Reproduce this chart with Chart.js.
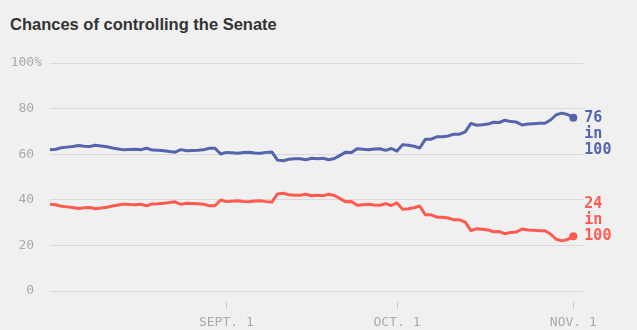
<!DOCTYPE html>
<html>
<head>
<meta charset="utf-8">
<script src="https://cdn.jsdelivr.net/npm/chart.js@4.4.0/dist/chart.umd.min.js"></script>
<style>
  html, body { margin: 0; padding: 0; background: #f0f0f0; }
  #wrap { position: relative; width: 637px; height: 330px; }
  #title {
    position: absolute; left: 10px; top: 15px;
    font: bold 16.5px "Liberation Sans", Arial, sans-serif;
    color: #333;
  }
  canvas { position: absolute; left: 0; top: 0; }
</style>
</head>
<body>
<div id="wrap">
  <div id="title">Chances of controlling the Senate</div>
  <canvas id="chart" width="637" height="330"></canvas>
</div>
<script>
// daily values, Aug 1 (index 0) through Nov 1
var dem = [
  61.9, 62.2, 62.8, 63.1, 63.4, 63.8, 63.5, 63.4, 63.9, 63.6,
  63.3, 62.7, 62.3, 61.9, 62.1, 62.2, 62.0, 62.6, 61.8, 61.7,
  61.5, 61.2, 60.9, 62.0, 61.5, 61.6, 61.7, 61.9, 62.6, 62.6,
  60.1, 60.8, 60.6, 60.4, 60.7, 60.9, 60.5, 60.4, 60.8, 61.0,
  57.4, 57.1, 57.8, 58.0, 58.0, 57.6, 58.2, 58.0, 58.2, 57.6,
  58.1, 59.5, 60.9, 60.7, 62.4, 62.2, 62.0, 62.3, 62.4, 61.7,
  62.5, 61.4, 64.2, 63.9, 63.5, 62.7, 66.6, 66.6, 67.6, 67.7,
  68.0, 68.8, 68.8, 69.8, 73.5, 72.7, 72.9, 73.2, 74.0, 73.9,
  74.9, 74.3, 74.1, 72.8, 73.2, 73.4, 73.6, 73.6, 75.0, 77.3,
  78.0, 77.4, 76.0
];
var rep = [
  38.1, 37.8, 37.2, 36.9, 36.6, 36.2, 36.5, 36.6, 36.1, 36.4,
  36.7, 37.3, 37.7, 38.1, 37.9, 37.8, 38.0, 37.4, 38.2, 38.3,
  38.5, 38.8, 39.1, 38.0, 38.5, 38.4, 38.3, 38.1, 37.4, 37.4,
  39.9, 39.2, 39.4, 39.6, 39.3, 39.1, 39.5, 39.6, 39.2, 39.0,
  42.6, 42.9, 42.2, 42.0, 42.0, 42.4, 41.8, 42.0, 41.8, 42.4,
  41.9, 40.5, 39.1, 39.3, 37.6, 37.8, 38.0, 37.7, 37.6, 38.3,
  37.5, 38.6, 35.8, 36.1, 36.5, 37.3, 33.4, 33.4, 32.4, 32.3,
  32.0, 31.2, 31.2, 30.2, 26.5, 27.3, 27.1, 26.8, 26.0, 26.1,
  25.1, 25.7, 25.9, 27.2, 26.8, 26.6, 26.4, 26.4, 25.0, 22.7,
  22.0, 22.6, 24.0
];
var xTickDays = [31, 61, 92];
var xTickLabels = ["SEPT. 1", "OCT. 1", "NOV. 1"];
var endLabels = [["76", "in", "100"], ["24", "in", "100"]];

var blue = "#5465ad";
var red = "#ff5a50";
var mono = "'DejaVu Sans Mono', 'Liberation Mono', monospace";

function pts(arr) {
  return arr.map(function (v, i) { return { x: i, y: v }; });
}
function lastDot(arr) {
  return function (ctx) { return ctx.dataIndex === arr.length - 1 ? 4 : 0; };
}

var endPlugin = {
  id: "endLabels",
  afterDraw: function (chart) {
    var c = chart.ctx;
    var xs = chart.scales.x;
    var ys = chart.scales.y;
    // small tick marks below the axis
    c.save();
    c.strokeStyle = "#cccccc";
    c.lineWidth = 1;
    xTickDays.forEach(function (d) {
      var px = Math.round(xs.getPixelForValue(d)) + 0.5;
      c.beginPath();
      c.moveTo(px, ys.bottom + 11);
      c.lineTo(px, ys.bottom + 18);
      c.stroke();
    });
    // end labels
    c.font = "bold 15px " + mono;
    c.textBaseline = "middle";
    c.textAlign = "left";
    chart.data.datasets.forEach(function (ds, k) {
      var last = ds.data[ds.data.length - 1];
      var px = xs.getPixelForValue(last.x) + 11;
      var py = ys.getPixelForValue(last.y);
      var lines = endLabels[k];
      c.fillStyle = ds.borderColor;
      lines.forEach(function (t, j) {
        var off = k === 0 ? j * 16 : (j - lines.length + 1) * 16;
        c.fillText(t, px, py + off);
      });
    });
    c.restore();
  }
};

new Chart(document.getElementById("chart"), {
  type: "line",
  data: {
    datasets: [
      {
        data: pts(dem), borderColor: blue, backgroundColor: blue,
        borderWidth: 3, tension: 0, pointRadius: lastDot(dem),
        pointBorderWidth: 0, borderJoinStyle: "round"
      },
      {
        data: pts(rep), borderColor: red, backgroundColor: red,
        borderWidth: 3, tension: 0, pointRadius: lastDot(rep),
        pointBorderWidth: 0, borderJoinStyle: "round"
      }
    ]
  },
  options: {
    responsive: false,
    animation: false,
    layout: { padding: { top: 63, right: 54, left: 0, bottom: 0 } },
    plugins: { legend: { display: false }, tooltip: { enabled: false } },
    scales: {
      x: {
        type: "linear", min: 0, max: 93.7,
        grid: { display: false },
        border: { display: false },
        afterBuildTicks: function (axis) {
          axis.ticks = xTickDays.map(function (d) { return { value: d }; });
        },
        afterFit: function (axis) { axis.height = 39; },
        ticks: {
          autoSkip: false, maxRotation: 0, padding: 16, color: "#aaaaaa",
          font: { family: mono, size: 13 },
          callback: function (v) { return xTickLabels[xTickDays.indexOf(v)]; }
        }
      },
      y: {
        min: 0, max: 100,
        grid: { color: "#d9d9d9", drawTicks: false },
        border: { display: false },
        afterFit: function (axis) { axis.width = 50; },
        ticks: {
          stepSize: 20, padding: 8, color: "#aaaaaa",
          font: { family: mono, size: 13 },
          callback: function (v) { return v === 100 ? "100%" : v + " "; }
        }
      }
    }
  },
  plugins: [endPlugin]
});
</script>
</body>
</html>
